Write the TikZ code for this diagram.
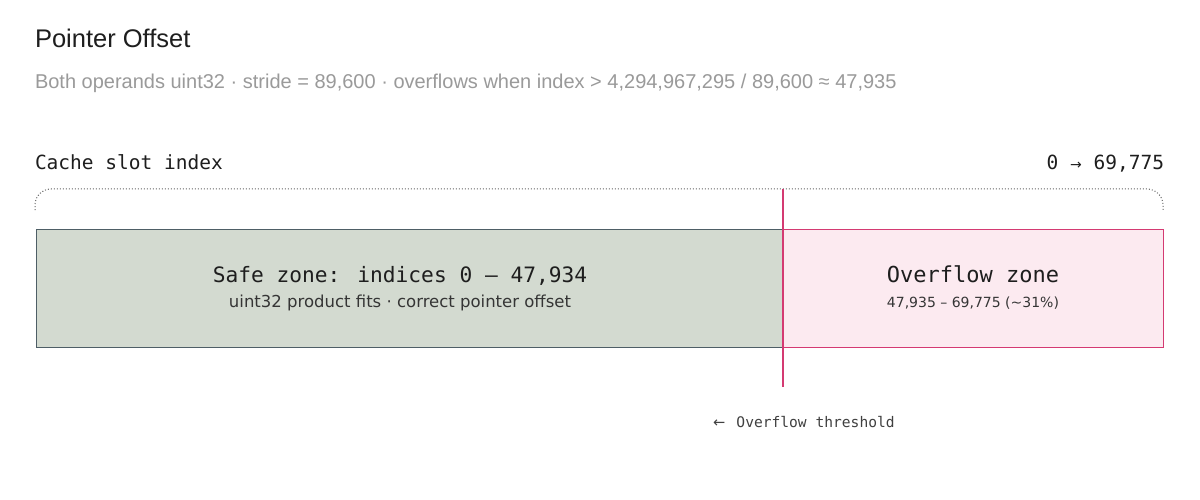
\documentclass[tikz,border=0pt]{standalone}
\usepackage{fontspec}
\setmainfont{Liberation Sans}
\newfontfamily\monof{DejaVu Sans Mono}
\newfontfamily\symf{DejaVu Sans}
\definecolor{safefill}{HTML}{D3DAD0}
\definecolor{safedraw}{HTML}{4E5E66}
\definecolor{ovfill}{HTML}{FCEAF0}
\definecolor{ovdraw}{HTML}{D43A72}
\definecolor{subgray}{HTML}{9A9A9A}
\definecolor{ink}{HTML}{1E1E1E}
\begin{document}
\begin{tikzpicture}[x=1pt,y=-1pt,
  lbl/.style={inner sep=0pt,outer sep=0pt,text=ink},
  zone/.style={line width=1.3pt}]
\useasboundingbox[fill=white] (0,0) rectangle (1200,500);
\node[lbl,anchor=base west,font=\fontsize{25.5}{28}\selectfont] (title) at (35,48) {Pointer Offset};
\node[lbl,anchor=base west,text=subgray,font=\fontsize{20}{24}\selectfont] (sub) at (35,89) {Both operands uint32 · stride = 89,600 · overflows when index > 4,294,967,295 / 89,600 ≈ 47,935};
\node[lbl,anchor=base west,font=\monof\fontsize{19.5}{22}\selectfont] (axis) at (35,170) {Cache slot index};
\node[lbl,anchor=base east,font=\monof\fontsize{19.5}{22}\selectfont] (range) at (1164,170) {0 {\symf\fontsize{14}{16}\selectfont→} 69,775};
\coordinate (bl) at (35,210);
\coordinate (br) at (1163,210);
\draw[gray!80!black,line width=1pt,dotted,rounded corners=16pt] (bl) -- (35,189) -- (1163,189) -- (br);
\node[zone,draw=safedraw,fill=safefill,minimum width=747pt,minimum height=118pt,anchor=north west,inner sep=0pt] (safe) at (36,229) {};
\node[zone,draw=ovdraw,fill=ovfill,minimum width=380pt,minimum height=118pt,anchor=north west,inner sep=0pt] (over) at (783,229) {};
\coordinate (ttop) at (783,189);
\coordinate (tbot) at (783,387);
\draw[ovdraw,line width=1.6pt] (ttop) -- (tbot);
\node[lbl,anchor=base,font=\monof\fontsize{21.2}{24}\selectfont] (safet) at (400,282) {Safe zone: indices 0 – 47,934};
\node[lbl,anchor=base,font=\symf\fontsize{16.5}{19}\selectfont,text=ink!90] (safes) at (400,307) {uint32 product fits · correct pointer offset};
\node[lbl,anchor=base,font=\monof\fontsize{22}{24}\selectfont] (overt) at (973,282) {Overflow zone};
\node[lbl,anchor=base,font=\symf\fontsize{14}{17}\selectfont,text=ink!90] (overs) at (973,307) {47,935 – 69,775 (\textasciitilde31\%)};
\node[lbl,anchor=base west,font=\monof\fontsize{14.6}{17}\selectfont,text=ink!85] (thr) at (713,427) {{\symf←}\, Overflow threshold};
\end{tikzpicture}
\end{document}
